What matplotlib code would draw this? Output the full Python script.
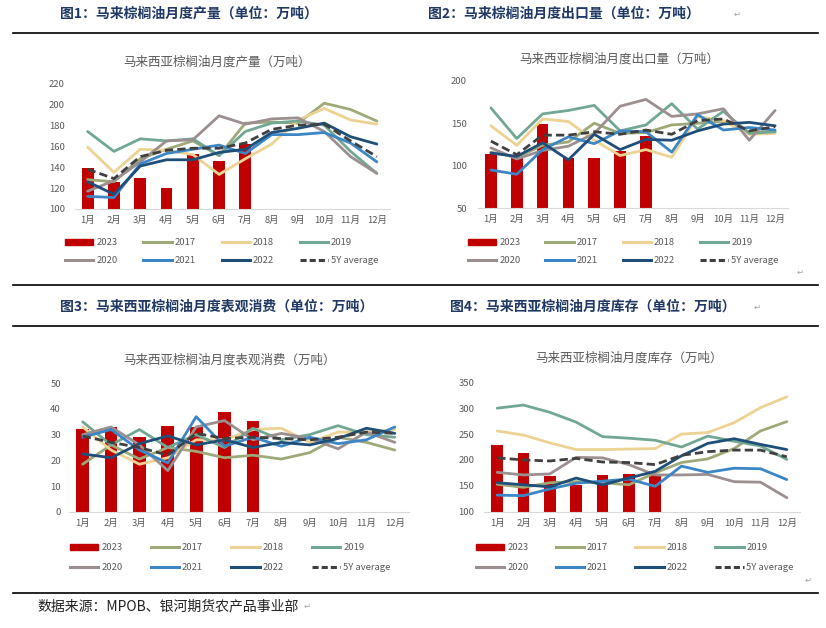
import numpy as np
import matplotlib
matplotlib.use('Agg')
import matplotlib.pyplot as plt
from matplotlib.lines import Line2D
from matplotlib.patches import Patch

plt.rcParams['font.family'] = ['Noto Sans CJK SC', 'DejaVu Sans']

months = ['1月', '2月', '3月', '4月', '5月', '6月', '7月', '8月', '9月', '10月', '11月', '12月']
years = ['2017', '2018', '2019', '2020', '2021', '2022']

# 产量
prod_2023 = [138.8, 125.5, 129.3, 120.4, 152.2, 145.5, 161.8]
prod_2017 = [128, 126, 148, 157, 165, 151, 182, 183, 182, 201, 195, 184]
prod_2018 = [159, 135, 157, 156, 152, 133, 148, 162, 185, 196, 185, 181]
prod_2019 = [174, 155, 167, 165, 167, 151, 174, 182, 184, 180, 155, 134]
prod_2020 = [117, 127, 145, 165, 166, 189, 181, 186, 187, 174, 150, 134]
prod_2021 = [112, 111, 143, 153, 157, 161, 153, 171, 171, 173, 163, 145]
prod_2022 = [126, 114, 141, 147, 147, 154, 157, 173, 177, 182, 169, 162]
prod_5y = [138, 129, 150, 156, 158, 158, 163, 176, 180, 181, 165, 150]

# 出口
exp_2023 = [113.8, 110.7, 148.7, 109, 108.8, 117, 135]
exp_2017 = [116, 110, 124, 128, 150, 138, 139, 148, 150, 152, 140, 140]
exp_2018 = [147, 124, 155, 152, 130, 112, 119, 110, 158, 153, 137, 138]
exp_2019 = [168, 132, 161, 165, 171, 141, 148, 173, 143, 164, 138, 140]
exp_2020 = [121, 108, 118, 123, 138, 170, 178, 158, 161, 167, 130, 165]
exp_2021 = [95, 90, 119, 134, 126, 141, 140, 116, 160, 142, 145, 142]
exp_2022 = [115, 111, 127, 107, 137, 119, 131, 130, 141, 149, 151, 147]
exp_5y = [129, 113, 136, 136, 140, 137, 142, 137, 153, 155, 141, 146]

# 表观消费
cons_2023 = [32.2, 33, 29.2, 33.2, 33, 38.7, 35.3]
cons_2017 = [18.5, 26, 20.5, 25, 23.5, 21, 22, 20.5, 23, 29, 27, 24]
cons_2018 = [33, 24, 18.5, 21, 28, 28, 32, 32.5, 27, 31, 31, 32]
cons_2019 = [35, 26, 32, 25, 30, 25, 32.5, 28, 30, 33.5, 30, 29]
cons_2020 = [30, 33, 26, 16, 33, 35.5, 28, 30.5, 28.5, 24.5, 31, 27]
cons_2021 = [29, 32, 24, 19, 37, 25.5, 29, 25.5, 29, 26.5, 28, 33]
cons_2022 = [22.5, 21, 26.5, 29.5, 26, 28, 25, 27, 26, 28.5, 32.5, 30.5]
cons_5y = [29.5, 27, 25, 22, 30.5, 28.5, 29, 28.5, 28, 29, 31, 30.5]

# 库存
stock_2023 = [228.9, 213.4, 169, 151.5, 170, 172.8, 170]
stock_2017 = [153, 147, 156, 158, 156, 152, 175, 195, 202, 222, 256, 274]
stock_2018 = [256, 248, 233, 220, 220, 221, 222, 250, 253, 272, 301, 322]
stock_2019 = [300, 306, 292, 273, 245, 242, 238, 225, 246, 236, 227, 201]
stock_2020 = [176, 171, 173, 205, 204, 191, 171, 171, 172, 158, 157, 127]
stock_2021 = [132, 131, 144, 155, 159, 163, 149, 188, 176, 184, 183, 162]
stock_2022 = [156, 152, 148, 165, 152, 165, 178, 208, 232, 241, 230, 220]
stock_5y = [204, 200, 198, 203, 196, 195, 191, 209, 216, 219, 219, 206]

bar_color = '#C00000'
line_colors = ['#9EA978', '#EDD393', '#72A893', '#9C8F8F', '#3C86C6', '#1F4E79']
avg_color = '#404040'
gray = '#595959'

W, H = 826, 628
fig = plt.figure(figsize=(W / 100, H / 100), dpi=100)


def rect(l, t, r, b):
    return [l / W, 1 - b / H, (r - l) / W, (b - t) / H]


def draw_panel(box, bars, lines, avg, ylim, yticks, title, title_xy, leg_xy, colsp, rowsp, ypad):
    ax = fig.add_axes(rect(*box))
    x = np.arange(12)
    ax.bar(x[:len(bars)], bars, width=0.45, color=bar_color, zorder=2)
    for vals, c in zip(lines, line_colors):
        ax.plot(x, vals, color=c, lw=2, zorder=3, solid_capstyle='round')
    ax.plot(x, avg, color=avg_color, lw=2, dashes=(3, 1.5), zorder=4)
    ax.set_xlim(-0.5, 11.5)
    ax.set_ylim(*ylim)
    ax.set_yticks(yticks)
    ax.set_xticks(x)
    ax.set_xticklabels(months)
    for s in ['top', 'right', 'left']:
        ax.spines[s].set_visible(False)
    ax.spines['bottom'].set_color('#D9D9D9')
    ax.tick_params(length=0, labelsize=6.8, labelcolor=gray)
    ax.tick_params(axis='y', pad=ypad)
    ax.tick_params(axis='x', pad=5)
    fig.text(title_xy[0] / W, 1 - title_xy[1] / H, title, ha='center', va='center',
             fontsize=9, color=gray)
    handles = [Patch(color=bar_color)]
    handles += [Line2D([], [], color=c, lw=2.2) for c in line_colors]
    handles += [Line2D([], [], color=avg_color, lw=2.2, dashes=(2, 1))]
    labels = ['2023'] + years + ['5Y average']
    order = [0, 4, 1, 5, 2, 6, 3, 7]
    ax.legend([handles[i] for i in order], [labels[i] for i in order], ncol=4,
              loc='upper left', bbox_to_anchor=(leg_xy[0] / W, 1 - leg_xy[1] / H),
              bbox_transform=fig.transFigure, frameon=False, fontsize=6.8,
              labelcolor=gray, handlelength=3.0, handleheight=0.6, handletextpad=0.3,
              columnspacing=colsp, borderpad=0, borderaxespad=0, labelspacing=rowsp)
    return ax


draw_panel((74.5, 83.3, 390, 209), prod_2023,
           [prod_2017, prod_2018, prod_2019, prod_2020, prod_2021, prod_2022], prod_5y,
           (100, 220), range(100, 221, 20), '马来西亚棕榈油月度产量（万吨）',
           (217, 62), (65, 238), 2.75, 0.95, 7)
draw_panel((478, 80.7, 788, 208.3), exp_2023,
           [exp_2017, exp_2018, exp_2019, exp_2020, exp_2021, exp_2022], exp_5y,
           (50, 200), [50, 100, 150, 200], '马来西亚棕榈油月度出口量（万吨）',
           (619, 59), (468, 238), 2.65, 0.95, 8)
draw_panel((68.5, 383.3, 409, 511.7), cons_2023,
           [cons_2017, cons_2018, cons_2019, cons_2020, cons_2021, cons_2022], cons_5y,
           (0, 50), range(0, 51, 10), '马来西亚棕榈油月度表观消费（万吨）',
           (230, 360), (70, 543), 3.0, 1.15, 5.5)
draw_panel((484, 382.3, 800, 511.7), stock_2023,
           [stock_2017, stock_2018, stock_2019, stock_2020, stock_2021, stock_2022], stock_5y,
           (100, 350), range(100, 351, 50), '马来西亚棕榈油月度库存（万吨）',
           (629, 358), (476, 543), 2.9, 1.15, 7)

# 页面标题与分隔线
head = dict(fontsize=10, fontweight='bold', color='#1F3864', va='center', ha='left')
fig.text(60 / W, 1 - 14 / H, '图1：马来棕榈油月度产量（单位：万吨）', **head)
fig.text(428 / W, 1 - 14 / H, '图2：马来棕榈油月度出口量（单位：万吨）', **head)
fig.text(60 / W, 1 - 307 / H, '图3：马来西亚棕榈油月度表观消费（单位：万吨）', **head)
fig.text(450 / W, 1 - 307 / H, '图4：马来西亚棕榈油月度库存（单位：万吨）', **head)
fig.text(37 / W, 1 - 606 / H, '数据来源：MPOB、银河期货农产品事业部', fontsize=10,
         color='#222222', va='center', ha='left')

for y in [33, 285, 326, 593]:
    fig.add_artist(Line2D([13 / W, 818 / W], [1 - y / H, 1 - y / H], color='black', lw=1.2))

for (px, py) in [(737, 14), (800, 272), (757, 307), (307, 606), (808, 580)]:
    fig.text(px / W, 1 - py / H, '↵', fontsize=6, color='#A0A0A0',
             family=['DejaVu Sans'], ha='center', va='center')

fig.savefig('out.png', dpi=100)
